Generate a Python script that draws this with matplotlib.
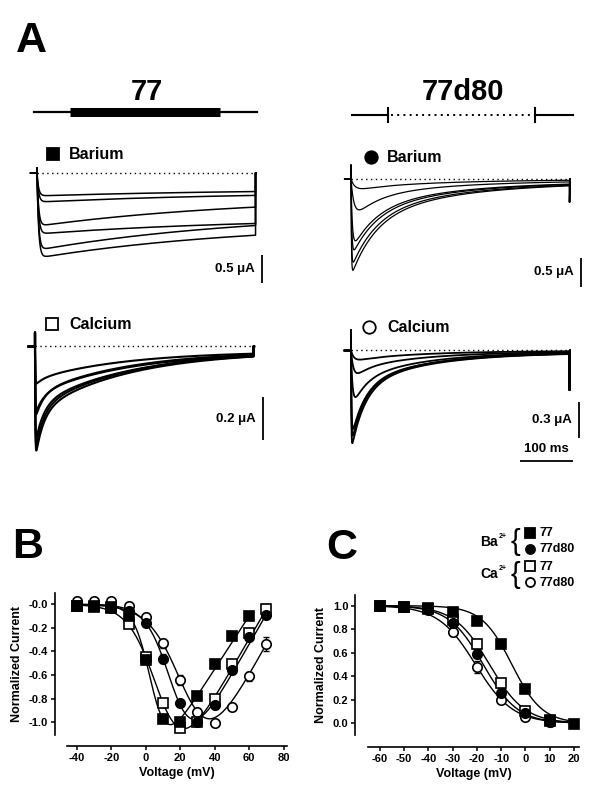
import numpy as np
import matplotlib
matplotlib.use('Agg')
import matplotlib.pyplot as plt
from matplotlib.lines import Line2D

plt.rcParams['font.family'] = ['Liberation Sans', 'DejaVu Sans']
plt.rcParams['font.weight'] = 'bold'

# ---------------- data ----------------
# Panel B : normalized I-V relations
iv_v_ba77 = [-40, -30, -20, -10, 0, 10, 20, 30, 40, 50, 60]
iv_ba77 = [-0.01, -0.01, -0.02, -0.10, -0.47, -0.97, -1.00, -0.78, -0.51, -0.27, -0.10]
iv_err_ba77 = [0, 0, 0, 0.01, 0.02, 0.02, 0.02, 0.02, 0.02, 0.02, 0.02]
iv_v = [-40, -30, -20, -10, 0, 10, 20, 30, 40, 50, 60, 70]
iv_ba77d80 = [-0.01, -0.01, -0.03, -0.06, -0.16, -0.46, -0.84, -1.00, -0.85, -0.56, -0.28, -0.09]
iv_err_ba77d80 = [0, 0, 0, 0, 0.02, 0.04, 0.02, 0.02, 0.02, 0.02, 0.03, 0.02]
iv_ca77 = [-0.01, -0.02, -0.03, -0.17, -0.45, -0.84, -1.05, -1.00, -0.80, -0.51, -0.24, -0.04]
iv_err_ca77 = [0, 0, 0, 0.02, 0.02, 0.03, 0.02, 0.02, 0.02, 0.03, 0.04, 0.04]
iv_ca77d80 = [0.03, 0.03, 0.03, -0.01, -0.11, -0.33, -0.64, -0.91, -1.01, -0.87, -0.61, -0.34]
iv_err_ca77d80 = [0, 0, 0, 0, 0.02, 0.04, 0.04, 0.02, 0.02, 0.03, 0.04, 0.06]
# fitted I-V parameters (g, Erev, V1/2, k)
ivfit_ba77 = (0.0225, 64.4, 3.5, 4.8)
ivfit_ba77d80 = (0.0255, 73.3, 16.35, 6.9)
ivfit_ca77 = (0.0253, 71.6, 8.8, 7.94)
ivfit_ca77d80 = (0.0265, 82.8, 24.3, 9.17)
iv_yticks = [0.0, -0.2, -0.4, -0.6, -0.8, -1.0]
iv_yticklabels = ['-0.0', '-0.2', '-0.4', '-0.6', '-0.8', '-1.0']
iv_xticks = [-40, -20, 0, 20, 40, 60, 80]

# Panel C : steady-state inactivation
in_v_ba77 = [-60, -50, -40, -30, -20, -10, 0, 10, 20]
in_ba77 = [1.00, 0.99, 0.98, 0.95, 0.87, 0.67, 0.29, 0.03, -0.01]
in_err_ba77 = [0, 0, 0, 0.01, 0.01, 0.02, 0.01, 0, 0]
in_v = [-60, -50, -40, -30, -20, -10, 0, 10]
in_ba77d80 = [1.00, 0.99, 0.97, 0.85, 0.59, 0.26, 0.09, 0.01]
in_err_ba77d80 = [0, 0, 0, 0.02, 0.03, 0.02, 0.01, 0]
in_ca77 = [1.00, 0.99, 0.97, 0.88, 0.67, 0.34, 0.10, 0.02]
in_err_ca77 = [0, 0, 0, 0.02, 0.05, 0.04, 0.02, 0]
in_ca77d80 = [1.00, 0.99, 0.96, 0.78, 0.48, 0.20, 0.05, 0.01]
in_err_ca77d80 = [0, 0, 0, 0.04, 0.05, 0.02, 0.01, 0]
# Boltzmann fit parameters (V1/2, k)
infit_ba77 = (-5.6, 6.24)
infit_ba77d80 = (-17.4, 7.09)
infit_ca77 = (-14.84, 7.29)
infit_ca77d80 = (-20.6, 7.66)
in_yticks = [0.0, 0.2, 0.4, 0.6, 0.8, 1.0]
in_yticklabels = ['0.0', '0.2', '0.4', '0.6', '0.8', '1.0']
in_xticks = [-60, -50, -40, -30, -20, -10, 0, 10, 20]

# Panel A : current traces (amplitudes in uA, time constants in ms)
pulse_ms = 410
ba77_amp = [0.41, 0.52, 0.95, 1.09, 1.38, 1.52]
ba77_tact = [3, 3, 3, 3, 3, 3]
ba77_ff = [0, 0, 0, 0, 0, 0]
ba77_ss = [0.70, 0.64, 0.44, 0.73, 0.50, 0.58]
ba77_tau = (5, 400)

ba77d80_amp = [0.22, 0.72, 1.25, 1.36, 1.55, 1.68]
ba77d80_tact = [8, 6, 2.5, 1.5, 1.0, 0.8]
ba77d80_ff = [0.3, 0.58, 0.58, 0.58, 0.58, 0.58]
ba77d80_ss = [0.03, 0.03, 0.03, 0.03, 0.03, 0.03]
ba77d80_tau = (45, 180)

ca77_amp = [0.18, 0.32, 0.34, 0.46, 0.50, 0.53]
ca77_tact = [0.6, 0.6, 0.6, 0.6, 0.6, 0.6]
ca77_ff = [0.15, 0.30, 0.35, 0.40, 0.42, 0.42]
ca77_ss = [0.12, 0.08, 0.06, 0.05, 0.04, 0.04]
ca77_tau = (15, 170)

ca77d80_amp = [0.10, 0.26, 0.50, 0.74, 0.79, 0.84]
ca77d80_tact = [6, 5, 3, 1, 0.8, 0.6]
ca77d80_ff = [0.2, 0.4, 0.5, 0.6, 0.62, 0.62]
ca77d80_ss = [0.03, 0.03, 0.02, 0.02, 0.02, 0.02]
ca77d80_tau = (25, 130)

# onset artefact and tail current (uA) per panel
art_uA = {'ba77': 0.09, 'ba77d80': 0.24, 'ca77': 0.065, 'ca77d80': 0.17}
tail_uA = {'ba77': 0.0, 'ba77d80': 0.40, 'ca77': 0.0, 'ca77d80': 0.33}
scale_uA = {'ba77': 0.5, 'ba77d80': 0.5, 'ca77': 0.2, 'ca77d80': 0.3}
scale_ms = 100

# ---------------- figure ----------------
W, H = 600, 798
fig = plt.figure(figsize=(W / 100, H / 100), dpi=100)
PPM = 0.533  # pixels per ms


def fx(p):
    return p / W


def fy(p):
    return 1 - p / H


def ftext(x, y, s, **kw):
    fig.text(fx(x), fy(y), s, **kw)


def fmark(x, y, marker, ms, fc):
    fig.add_artist(Line2D([fx(x)], [fy(y)], marker=marker, ms=ms, mfc=fc,
                          mec='black', mew=1.3, transform=fig.transFigure))


# panel letters
ftext(16, 52, 'A', fontsize=31, fontweight='bold', va='baseline')
ftext(12, 558, 'B', fontsize=31, fontweight='bold', va='baseline')
ftext(326, 559, 'C', fontsize=31, fontweight='bold', va='baseline')

# construct schematics
ftext(147, 100, '77', fontsize=21, fontweight='bold', ha='center', va='baseline')
ftext(463, 100, '77d80', fontsize=21, fontweight='bold', ha='center', va='baseline')
fig.add_artist(Line2D([fx(34), fx(257)], [fy(112), fy(112)], lw=1.6, color='black',
                      transform=fig.transFigure))
fig.add_artist(Line2D([fx(70), fx(220)], [fy(112), fy(112)], lw=6.5, color='black',
                      solid_capstyle='butt', transform=fig.transFigure))
fig.add_artist(Line2D([fx(352), fx(388)], [fy(115), fy(115)], lw=1.5, color='black',
                      transform=fig.transFigure))
fig.add_artist(Line2D([fx(535), fx(573)], [fy(115), fy(115)], lw=1.5, color='black',
                      transform=fig.transFigure))
for xt in (388, 535):
    fig.add_artist(Line2D([fx(xt), fx(xt)], [fy(108), fy(122)], lw=1.5, color='black',
                          transform=fig.transFigure))
fig.add_artist(Line2D([fx(391), fx(533)], [fy(115), fy(115)], lw=1.4, color='black',
                      linestyle=(0, (1, 2.2)), transform=fig.transFigure))


def trace_axes(t0, base, ppu):
    left, right, up, down = -22, 250, 45, 122
    ax = fig.add_axes([(t0 + left) / W, 1 - (base + down) / H, (right - left) / W, (up + down) / H])
    ax.set_xlim(left / PPM, right / PPM)
    ax.set_ylim(-down / ppu, up / ppu)
    ax.axis('off')
    return ax


def draw_traces(ax, key, amp, tact, ff, ss, tau, lw):
    tf, ts = tau
    t = np.linspace(0.05, pulse_ms, 2000)
    for A, ta, f, s in zip(amp, tact, ff, ss):
        act = 1 - np.exp(-t / ta)
        inact = f * np.exp(-t / tf) + (1 - f - s) * np.exp(-t / ts) + s
        i = -A * act * inact
        tt = np.concatenate([[-12, 0, 0], t, [pulse_ms, pulse_ms + 0.5, pulse_ms + 1.0]])
        ii = np.concatenate([[0, 0, art_uA[key]], i, [-tail_uA[key], 0, 0]])
        ax.plot(tt, ii, color='black', lw=lw, solid_joinstyle='round')
    ax.plot([0, pulse_ms], [0, 0], color='black', lw=1.0, linestyle=(0, (1, 2.5)))


def scale_bar(ax, tx, ytop, amp_uA, label):
    ax.plot([tx, tx], [ytop, ytop - amp_uA], color='black', lw=1.3, solid_capstyle='butt')
    ax.annotate(label, (tx, ytop - amp_uA / 2), xytext=(-5, 0), textcoords='offset points',
                ha='right', va='center', fontsize=9.5, fontweight='bold')


# top-left: Ba 77
ax1 = trace_axes(37, 173, 56)
draw_traces(ax1, 'ba77', ba77_amp, ba77_tact, ba77_ff, ba77_ss, ba77_tau, 1.1)
scale_bar(ax1, 422, -1.46, scale_uA['ba77'], '0.5 μA')
fmark(53, 154, 's', 8, 'black')
ftext(69, 159, 'Barium', fontsize=11.5, fontweight='bold', va='baseline')

# top-right: Ba 77d80
ax2 = trace_axes(351, 179, 58)
draw_traces(ax2, 'ba77d80', ba77d80_amp, ba77d80_tact, ba77d80_ff, ba77d80_ss, ba77d80_tau, 0.9)
scale_bar(ax2, 431, -1.36, scale_uA['ba77d80'], '0.5 μA')
fmark(371, 157, 'o', 9, 'black')
ftext(387, 162, 'Barium', fontsize=11.5, fontweight='bold', va='baseline')

# bottom-left: Ca 77
ax3 = trace_axes(35, 346.5, 215)
draw_traces(ax3, 'ca77', ca77_amp, ca77_tact, ca77_ff, ca77_ss, ca77_tau, 1.5)
scale_bar(ax3, 428, -0.235, scale_uA['ca77'], '0.2 μA')
fmark(52, 324, 's', 8, 'white')
ftext(69, 329, 'Calcium', fontsize=11.5, fontweight='bold', va='baseline')

# bottom-right: Ca 77d80
ax4 = trace_axes(351, 350.5, 120)
draw_traces(ax4, 'ca77d80', ca77d80_amp, ca77d80_tact, ca77d80_ff, ca77d80_ss, ca77d80_tau, 1.3)
scale_bar(ax4, 428, -0.43, scale_uA['ca77d80'], '0.3 μA')
ax4.plot([317, 317 + scale_ms], [-0.921, -0.921], color='black', lw=1.3, solid_capstyle='butt')
ax4.annotate('100 ms', (317 + scale_ms / 2, -0.921), xytext=(0, 4), textcoords='offset points',
             ha='center', va='bottom', fontsize=9.5, fontweight='bold')
fmark(369, 327, 'o', 9, 'white')
ftext(387, 332, 'Calcium', fontsize=11.5, fontweight='bold', va='baseline')


# ---------------- panels B and C ----------------
def style_axes(ax, left_out, bottom_out):
    for sp in ('top', 'right'):
        ax.spines[sp].set_visible(False)
    ax.spines['left'].set_position(('outward', left_out))
    ax.spines['bottom'].set_position(('outward', bottom_out))
    for sp in ('left', 'bottom'):
        ax.spines[sp].set_linewidth(1.2)
    ax.tick_params(direction='out', length=3, width=1.1, labelsize=8, pad=2)
    for lab in ax.get_xticklabels() + ax.get_yticklabels():
        lab.set_fontweight('bold')


def series(ax, x, y, err, marker, fc):
    ax.errorbar(x, y, yerr=err, fmt='none', ecolor='black', elinewidth=1.0, capsize=2.5,
                capthick=1.0, zorder=3)
    ax.plot(x, y, linestyle='none', marker=marker, ms=6.8, mfc=fc, mec='black', mew=1.2, zorder=4)


def iv_fit(v, g, erev, vh, k):
    return g * (v - erev) / (1 + np.exp((vh - v) / k))


def boltz(v, vh, k):
    return 1 / (1 + np.exp((v - vh) / k))


axB = fig.add_axes([fx(67), fy(735), (287 - 67) / W, (735 - 593) / H])
axB.set_xlim(-45.8, 82)
axB.set_ylim(-1.108, 0.096)
for vlist, p in ((iv_v_ba77, ivfit_ba77), (iv_v, ivfit_ba77d80), (iv_v, ivfit_ca77), (iv_v, ivfit_ca77d80)):
    vv = np.linspace(vlist[0], vlist[-1], 300)
    axB.plot(vv, iv_fit(vv, *p), color='black', lw=1.0, zorder=2)
series(axB, iv_v, iv_ca77d80, iv_err_ca77d80, 'o', 'white')
series(axB, iv_v, iv_ca77, iv_err_ca77, 's', 'white')
series(axB, iv_v, iv_ba77d80, iv_err_ba77d80, 'o', 'black')
series(axB, iv_v_ba77, iv_ba77, iv_err_ba77, 's', 'black')
axB.set_yticks(iv_yticks)
axB.set_yticklabels(iv_yticklabels)
axB.set_xticks(iv_xticks)
axB.set_xticklabels([str(v) for v in iv_xticks])
style_axes(axB, 8.6, 7.9)
axB.set_xlabel('Voltage (mV)', fontsize=9, fontweight='bold', labelpad=3)
axB.set_ylabel('Normalized Current', fontsize=9, fontweight='bold', labelpad=4)

axC = fig.add_axes([fx(368.3), fy(735), (579.3 - 368.3) / W, (735 - 595) / H])
axC.set_xlim(-64.8, 22.2)
axC.set_ylim(-0.1, 1.091)
for vlist, p in ((in_v_ba77, infit_ba77), (in_v_ba77, infit_ba77d80), (in_v_ba77, infit_ca77), (in_v_ba77, infit_ca77d80)):
    vv = np.linspace(vlist[0], vlist[-1], 300)
    axC.plot(vv, boltz(vv, *p), color='black', lw=1.0, zorder=2)
series(axC, in_v, in_ca77d80, in_err_ca77d80, 'o', 'white')
series(axC, in_v, in_ca77, in_err_ca77, 's', 'white')
series(axC, in_v, in_ba77d80, in_err_ba77d80, 'o', 'black')
series(axC, in_v_ba77, in_ba77, in_err_ba77, 's', 'black')
axC.set_yticks(in_yticks)
axC.set_yticklabels(in_yticklabels)
axC.set_xticks(in_xticks)
axC.set_xticklabels([str(v) for v in in_xticks])
style_axes(axC, 9.4, 8.4)
axC.set_xlabel('Voltage (mV)', fontsize=9, fontweight='bold', labelpad=3)
axC.set_ylabel('Normalized Current', fontsize=9, fontweight='bold', labelpad=4)

# legend for panel C
for ion, ycen, fc in (('Ba', 541, 'black'), ('Ca', 574, 'white')):
    ftext(498, ycen + 4.5, ion, fontsize=10, fontweight='bold', ha='right', va='baseline')
    ftext(498.5, ycen - 3.5, '2+', fontsize=5, fontweight='bold', ha='left', va='baseline')
    ftext(515, ycen + 1, '{', fontsize=21, fontweight='normal', ha='center', va='center')
    fmark(530, ycen - 8, 's', 6.5, fc)
    fmark(530, ycen + 8, 'o', 6.5, fc)
    ftext(540, ycen - 4.5, '77', fontsize=9, fontweight='bold', va='baseline')
    ftext(540, ycen + 11.5, '77d80', fontsize=9, fontweight='bold', va='baseline')

fig.savefig('out.png', dpi=100)
